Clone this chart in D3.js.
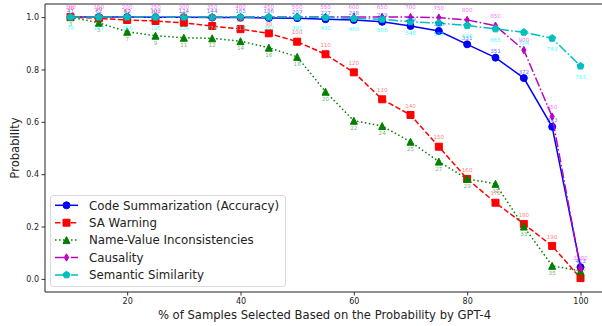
<!DOCTYPE html>
<html>
<head>
<meta charset="utf-8">
<script src="https://cdn.jsdelivr.net/npm/d3@7"></script>
<style>
  html, body { margin: 0; padding: 0; background: #fff; }
  svg { display: block; font-family: "DejaVu Sans", sans-serif; }
</style>
</head>
<body>
<svg id="chart" width="602" height="326"></svg>
<script>
// % of samples selected (x positions shared by every series)
const percents = [10, 15, 20, 25, 30, 35, 40, 45, 50, 55, 60, 65, 70, 75, 80, 85, 90, 95, 100];

// Probability values per task
const codeSummValues = [1.0, 1.0, 1.0, 0.999, 0.999, 0.998, 0.998, 0.997, 0.996, 0.992, 0.989, 0.982, 0.966, 0.947, 0.896, 0.845, 0.767, 0.581, 0.045];
const saWarningValues = [1.0, 0.995, 0.989, 0.985, 0.978, 0.966, 0.954, 0.938, 0.906, 0.858, 0.789, 0.686, 0.626, 0.505, 0.382, 0.291, 0.21, 0.126, 0.003];
const nameValueValues = [1.0, 0.978, 0.944, 0.929, 0.921, 0.919, 0.908, 0.883, 0.848, 0.715, 0.604, 0.584, 0.524, 0.448, 0.382, 0.363, 0.2, 0.05, 0.03];
const causalityValues = [1.0, 1.0, 1.0, 1.0, 1.0, 1.0, 1.0, 1.0, 1.0, 1.0, 1.0, 1.0, 1.0, 0.998, 0.989, 0.967, 0.874, 0.62, 0.04];
const semanticValues = [1.0, 1.0, 1.0, 1.0, 1.0, 1.0, 1.0, 1.0, 1.0, 0.999, 0.995, 0.992, 0.982, 0.977, 0.968, 0.955, 0.942, 0.919, 0.813];

// Sample counts printed beside each point
const codeSummCounts = [41, 62, 82, 103, 124, 144, 165, 186, 207, 227, 248, 269, 289, 310, 331, 351, 372, 393, 413];
const saWarningCounts = [20, 30, 40, 50, 60, 70, 80, 90, 100, 110, 120, 130, 140, 150, 160, 170, 180, 190, 200];
const nameValueCounts = [3, 5, 7, 9, 11, 12, 14, 16, 18, 20, 22, 24, 25, 27, 29, 31, 33, 35, 36];
const causalityCounts = [100, 150, 200, 250, 300, 350, 400, 450, 500, 550, 600, 650, 700, 750, 800, 850, 900, 950, 1000];
const semanticCounts = [78, 117, 156, 195, 234, 274, 313, 352, 391, 430, 469, 508, 548, 587, 626, 665, 704, 743, 783];

const seriesNames = ["Code Summarization (Accuracy)", "SA Warning", "Name-Value Inconsistencies", "Causality", "Semantic Similarity"];

const xTicks = [20, 40, 60, 80, 100];
const yTicks = [0.0, 0.2, 0.4, 0.6, 0.8, 1.0];

// ---- styling of each series ----
const styles = [
  { color: "#0000ff", labelColor: "#0000ff", labelOpacity: 0.6,  dash: null,              marker: "circle",   labelDy: -4.5 },
  { color: "#ff0000", labelColor: "#ff0000", labelOpacity: 0.55, dash: "5.5,2.4",         marker: "square",   labelDy: -7.3 },
  { color: "#008000", labelColor: "#008000", labelOpacity: 0.6,  dash: "1.5,2.5",         marker: "triangle", labelDy: 9 },
  { color: "#bf00bf", labelColor: "#ff00ff", labelOpacity: 0.6,  dash: "9.6,2.4,1.5,2.4", marker: "diamond",  labelDy: -8 },
  { color: "#00bfbf", labelColor: "#00ffff", labelOpacity: 0.75, dash: "9.6,2.4,1.5,2.4", marker: "pentagon", labelDy: 12.7 }
];

const series = [
  { values: codeSummValues, counts: codeSummCounts },
  { values: saWarningValues, counts: saWarningCounts },
  { values: nameValueValues, counts: nameValueCounts },
  { values: causalityValues, counts: causalityCounts },
  { values: semanticValues, counts: semanticCounts }
].map((s, i) => Object.assign({ name: seriesNames[i] }, s, styles[i]));

const svg = d3.select("#chart");
const plotLeft = 45, plotRight = 606, plotTop = 4, plotBottom = 292;

const x = d3.scaleLinear().domain([5.5, 104.5]).range([plotLeft, plotRight]);
const y = d3.scaleLinear().domain([-0.05, 1.05]).range([plotBottom, plotTop]);

function markerPath(kind) {
  const h = 3.5;
  switch (kind) {
    case "circle": return d3.symbol(d3.symbolCircle, Math.PI * h * h)();
    case "square": return `M${-h},${-h}H${h}V${h}H${-h}Z`;
    case "triangle": return `M0,${-h}L${h},${h}L${-h},${h}Z`;
    case "diamond": return `M0,${-h * 1.05}L${h * 0.6},0L0,${h * 1.05}L${-h * 0.6},0Z`;
    case "pentagon": {
      const pts = d3.range(5).map(k => {
        const a = -Math.PI / 2 + k * 2 * Math.PI / 5;
        return [h * 1.05 * Math.cos(a), h * 1.05 * Math.sin(a)];
      });
      return "M" + pts.map(p => p.join(",")).join("L") + "Z";
    }
  }
}

const plot = svg.append("g");

const line = d3.line().x((d, i) => x(percents[i])).y(d => y(d));

series.forEach(s => {
  const g = plot.append("g");
  g.append("path")
    .attr("d", line(s.values))
    .attr("fill", "none")
    .attr("stroke", s.color)
    .attr("stroke-width", 1.5)
    .attr("stroke-dasharray", s.dash);
  g.selectAll("path.mk").data(s.values).join("path")
    .attr("class", "mk")
    .attr("d", markerPath(s.marker))
    .attr("transform", (d, i) => `translate(${x(percents[i])},${y(d)})`)
    .attr("fill", s.color)
    .attr("stroke", s.color)
    .attr("stroke-width", 1);
});

// count labels on top of all lines
series.forEach(s => {
  plot.append("g").selectAll("text").data(s.values).join("text")
    .attr("x", (d, i) => x(percents[i]))
    .attr("y", d => y(d) + s.labelDy)
    .attr("text-anchor", "middle")
    .attr("font-size", 5.6)
    .attr("fill", s.labelColor)
    .attr("fill-opacity", s.labelOpacity)
    .text((d, i) => s.counts[i]);
});

// ---- axes ----
const xAxis = d3.axisBottom(x).tickValues(xTicks).tickSize(3.5).tickPadding(2.5).tickFormat(d3.format("d"));
const yAxis = d3.axisLeft(y).tickValues(yTicks).tickSize(3.5).tickPadding(2.5).tickFormat(d3.format(".1f"));

const gx = svg.append("g").attr("transform", `translate(0,${plotBottom})`).call(xAxis);
const gy = svg.append("g").attr("transform", `translate(${plotLeft},0)`).call(yAxis);
[gx, gy].forEach(g => {
  g.select(".domain").remove();
  g.selectAll("line").attr("stroke", "#000").attr("stroke-width", 0.8);
  g.selectAll("text").attr("font-size", 8).attr("fill", "#222").attr("font-family", "DejaVu Sans");
});

// spines
svg.append("line").attr("x1", plotLeft).attr("x2", plotLeft).attr("y1", plotTop).attr("y2", plotBottom).attr("stroke", "#222").attr("stroke-width", 1);
svg.append("line").attr("x1", plotLeft).attr("x2", plotRight).attr("y1", plotBottom).attr("y2", plotBottom).attr("stroke", "#222").attr("stroke-width", 1);
svg.append("line").attr("x1", plotLeft).attr("x2", plotRight).attr("y1", plotTop).attr("y2", plotTop).attr("stroke", "#222").attr("stroke-width", 1);

// axis titles
svg.append("text")
  .attr("x", (plotLeft + plotRight) / 2 - 1).attr("y", 319)
  .attr("text-anchor", "middle").attr("font-size", 11.6).attr("fill", "#222")
  .text("% of Samples Selected Based on the Probability by GPT-4");
svg.append("text")
  .attr("transform", `translate(19,${(plotTop + plotBottom) / 2}) rotate(-90)`)
  .attr("text-anchor", "middle").attr("font-size", 11.6).attr("fill", "#222")
  .text("Probability");

// ---- legend ----
const legend = svg.append("g").attr("transform", "translate(50,195)");
legend.append("rect")
  .attr("x", 0.5).attr("y", 0.5).attr("width", 235).attr("height", 91)
  .attr("rx", 2.5)
  .attr("fill", "#fff").attr("fill-opacity", 0.8)
  .attr("stroke", "#d0d0d0").attr("stroke-width", 0.8);

series.forEach((s, i) => {
  const ry = 10.3 + i * 17.4;
  const row = legend.append("g").attr("transform", `translate(0,${ry})`);
  row.append("line")
    .attr("x1", 5).attr("x2", 28).attr("y1", 0).attr("y2", 0)
    .attr("stroke", s.color).attr("stroke-width", 1.5)
    .attr("stroke-dasharray", s.dash);
  row.append("path")
    .attr("d", markerPath(s.marker))
    .attr("transform", "translate(16.5,0)")
    .attr("fill", s.color).attr("stroke", s.color).attr("stroke-width", 1);
  row.append("text")
    .attr("x", 39).attr("y", 4.2)
    .attr("font-size", 11.8).attr("fill", "#222")
    .text(s.name);
});
</script>
</body>
</html>
